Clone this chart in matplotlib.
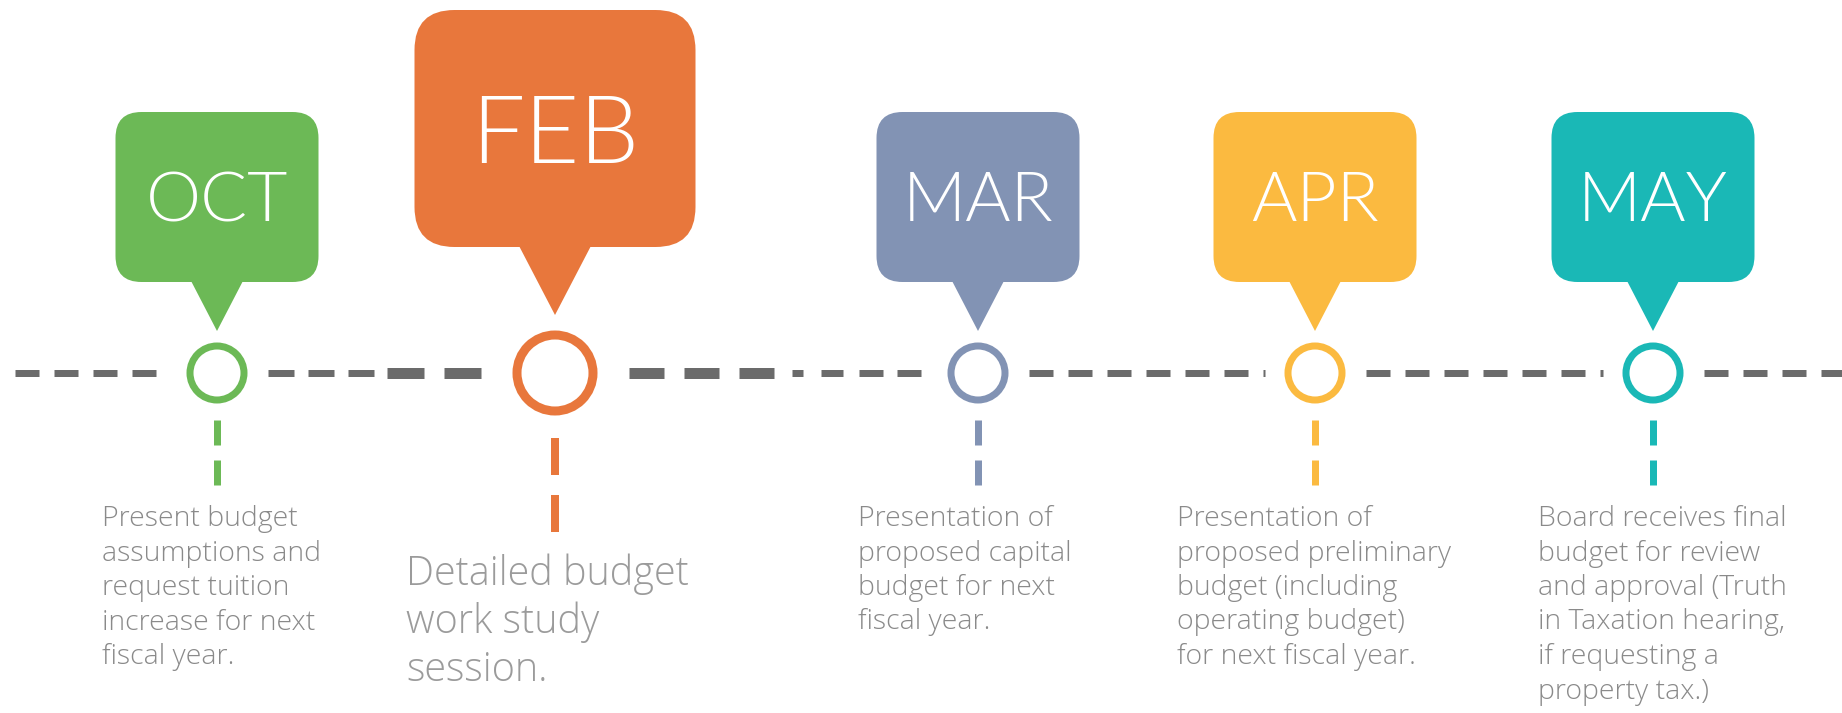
import matplotlib
matplotlib.use("Agg")
import matplotlib.pyplot as plt
from matplotlib.patches import FancyBboxPatch, Polygon, Circle
import matplotlib.font_manager as fm

# ---------------- data ----------------
months = ["OCT", "FEB", "MAR", "APR", "MAY"]
descriptions = [
    ["Present budget", "assumptions and", "request tuition", "increase for next", "fiscal year."],
    ["Detailed budget", "work study", "session."],
    ["Presentation of", "proposed capital", "budget for next", "fiscal year."],
    ["Presentation of", "proposed preliminary", "budget (including", "operating budget)", "for next fiscal year."],
    ["Board receives final", "budget for review", "and approval (Truth", "in Taxation hearing,", "if requesting a", "property tax.)"],
]
colors = ["#6cb956", "#e8773c", "#8293b4", "#fbba40", "#1ab8b6"]
highlight = [False, True, False, False, False]

# ---------------- layout (pixels) ----------------
W, H = 1842, 713
event_x = [217, 555, 978, 1315, 1653]
line_y = 373
text_left = [102, 406, 858, 1177, 1538]


def light_family(cands):
    for f in cands:
        for e in fm.fontManager.ttflist:
            if e.name == f and isinstance(e.weight, int) and e.weight <= 300:
                return f, 300
    return cands[-1], "normal"

mon_family, mon_weight = light_family(["Lato", "Open Sans", "Roboto", "Noto Sans", "DejaVu Sans"])
txt_family, txt_weight = light_family(["Open Sans", "Lato", "Noto Sans", "Roboto", "DejaVu Sans"])

PX = 0.72  # points per pixel at dpi 100

fig = plt.figure(figsize=(W / 100, H / 100), dpi=100)
ax = fig.add_axes([0, 0, 1, 1])
ax.set_xlim(0, W)
ax.set_ylim(H, 0)
ax.axis("off")
plt.rcParams["lines.scale_dashes"] = False

gray = "#6b6b6b"

# ---- timeline dashed segments ----
radii = [27 if not h else 38 for h in highlight]
outer = [r + (3.5 if not h else 4.5) for r, h in zip(radii, highlight)]
gap = 20
bounds = [15]
for x, o in zip(event_x, outer):
    bounds += [x - o - gap, x + o + gap]
bounds.append(W)
for i in range(0, len(bounds), 2):
    a, b = bounds[i], bounds[i + 1]
    if i == 2:
        mid = b - 106
        ax.plot([a, mid - 6], [line_y, line_y], color=gray, lw=7 * PX,
                linestyle=(0, (26 * PX, 14 * PX)), solid_capstyle="butt")
        ax.plot([mid, b], [line_y, line_y], color=gray, lw=11 * PX,
                linestyle=(0, (37 * PX, 20 * PX)), solid_capstyle="butt")
    elif i == 4:
        start = a + 11
        mid = start + 148
        ax.plot([start, mid], [line_y, line_y], color=gray, lw=11 * PX,
                linestyle=(0, (35 * PX, 20 * PX)), solid_capstyle="butt")
        ax.plot([mid + 15, b], [line_y, line_y], color=gray, lw=7 * PX,
                linestyle=(0, (11 * PX, 18 * PX, 22 * PX, 16 * PX, 24 * PX, 14 * PX, 24 * PX, 14 * PX)),
                solid_capstyle="butt")
    else:
        ax.plot([a, b], [line_y, line_y], color=gray, lw=7 * PX,
                linestyle=(0, (24 * PX, 15 * PX)), solid_capstyle="butt")

for i, m in enumerate(months):
    x = event_x[i]
    c = colors[i]
    big = highlight[i]
    if big:
        bw, bh, btop, rs = 281, 237, 10, 40
        tri_w, tip_y = 76, 315
        fs, base_y = 68, 163
        lwc = 9
        vdash = (37, 20); vlen = (438, 532); vlw = 8
    else:
        bw, bh, btop, rs = 203, 170, 112, 26
        tri_w, tip_y = 56, 331
        fs, base_y = 50, 221
        lwc = 7
        vdash = (25, 15); vlen = (420, 487); vlw = 7
    box = FancyBboxPatch((x - bw / 2, btop), bw, bh,
                         boxstyle=f"round,pad=0,rounding_size={rs}",
                         fc=c, ec="none", zorder=3)
    ax.add_patch(box)
    tri = Polygon([[x - tri_w / 2, btop + bh - 5], [x + tri_w / 2, btop + bh - 5], [x, tip_y]],
                  closed=True, fc=c, ec="none", zorder=3)
    ax.add_patch(tri)
    ax.text(x, base_y, m, color="white", fontsize=fs, family=mon_family,
            fontweight=mon_weight, ha="center", va="baseline", zorder=4)
    circ = Circle((x, line_y), radii[i], fc="white", ec=c, lw=lwc * PX, zorder=3)
    ax.add_patch(circ)
    ax.plot([x, x], [vlen[0], vlen[1]], color=c, lw=vlw * PX,
            linestyle=(0, (vdash[0] * PX, vdash[1] * PX)), solid_capstyle="butt")
    if big:
        tfs, pitch, y0, tc = 28.5, 48, 585, "#9b9b9b"
    else:
        tfs, pitch, y0, tc = 20.5, 34.5, 526, "#8a8a8a"
    for k, line in enumerate(descriptions[i]):
        ax.text(text_left[i], y0 + k * pitch, line, color=tc, fontsize=tfs,
                family=txt_family, fontweight=txt_weight, ha="left", va="baseline")

fig.savefig("out.png", dpi=100, facecolor="white")
